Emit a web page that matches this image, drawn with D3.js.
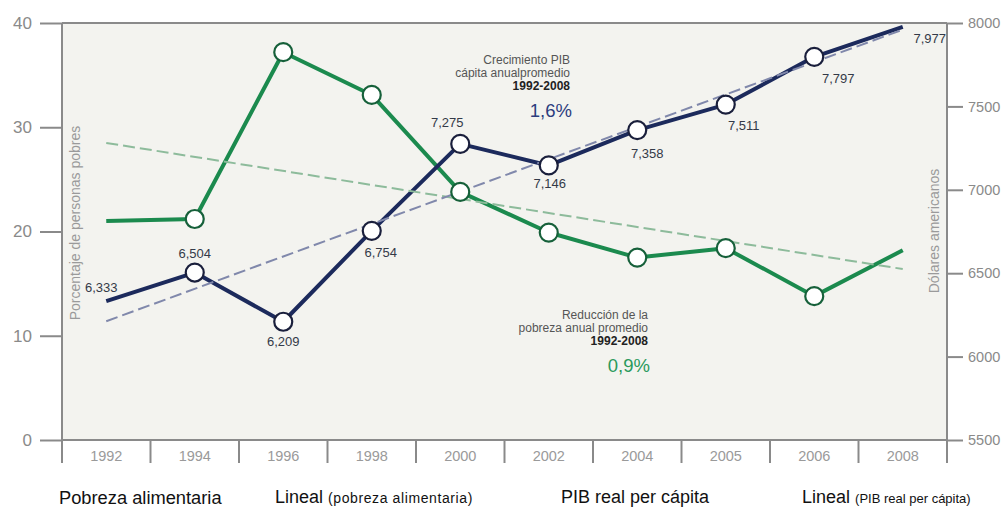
<!DOCTYPE html>
<html>
<head>
<meta charset="utf-8">
<script src="https://cdn.jsdelivr.net/npm/d3@7/dist/d3.min.js"></script>
<style>
  html, body { margin: 0; padding: 0; background: #ffffff; }
  svg { display: block; font-family: "Liberation Sans", Arial, sans-serif; }
</style>
</head>
<body>
<svg id="chart" width="1005" height="510"></svg>
<script>
// ---------- data ----------
const years = ["1992", "1994", "1996", "1998", "2000", "2002", "2004", "2005", "2006", "2008"];
const poverty = [21.0, 21.2, 37.2, 33.1, 23.8, 19.9, 17.5, 18.4, 13.8, 18.2];
const gdp = [6333, 6504, 6209, 6754, 7275, 7146, 7358, 7511, 7797, 7977];
const gdpLabels = ["6,333", "6,504", "6,209", "6,754", "7,275", "7,146", "7,358", "7,511", "7,797", "7,977"];
const povertyTrend = [28.5, 16.4];   // linear trend at 1992 and 2008
const gdpTrend = [6212, 7960];       // linear trend at 1992 and 2008
const leftTicks = [0, 10, 20, 30, 40];
const rightTicks = [5500, 6000, 6500, 7000, 7500, 8000];

// label offsets (style, not data)
const gdpLabelOffsets = [[-5, -14], [0, -19], [0, 20], [9, 22], [-13, -21], [1, 18], [10, 23], [18, 21], [24, 22], [27, 12]];

// ---------- layout ----------
const svg = d3.select("#chart");
const L = 62, R = 947, T = 23, B = 440;
const navy = "#1c2a5c", green = "#1b8a4e";
const axisColor = "#8a8a8a";

const x = d3.scaleBand().domain(years).range([L, R]).padding(0);
const cx = d => x(d) + x.bandwidth() / 2;
const yL = d3.scaleLinear().domain([0, 40]).range([B, T]);
const yR = d3.scaleLinear().domain([5500, 8000]).range([B, T]);

// plot background
svg.append("rect").attr("x", L).attr("y", T).attr("width", R - L).attr("height", B - T)
  .attr("fill", "#f3f3ef");

// left axis
const gl = svg.append("g").attr("transform", `translate(${L},0)`)
  .call(d3.axisLeft(yL).tickValues(leftTicks).tickSize(22).tickPadding(8));
gl.select(".domain").remove();
gl.selectAll("line").attr("stroke", axisColor).attr("stroke-width", 2);
gl.selectAll("text").attr("fill", "#8a8a8a").attr("font-size", 17).attr("font-family", "Liberation Sans, Arial, sans-serif");

// right axis
const gr = svg.append("g").attr("transform", `translate(${R},0)`)
  .call(d3.axisRight(yR).tickValues(rightTicks).tickSize(16).tickPadding(5).tickFormat(d3.format("d")));
gr.select(".domain").remove();
gr.selectAll("line").attr("stroke", axisColor).attr("stroke-width", 2);
gr.selectAll("text").attr("fill", "#8a8a8a").attr("font-size", 14.5).attr("font-family", "Liberation Sans, Arial, sans-serif");

// frame lines
svg.append("line").attr("x1", L).attr("x2", R).attr("y1", T).attr("y2", T).attr("stroke", axisColor).attr("stroke-width", 2);
svg.append("line").attr("x1", L).attr("x2", R).attr("y1", B).attr("y2", B).attr("stroke", axisColor).attr("stroke-width", 2);
svg.append("line").attr("x1", L).attr("x2", L).attr("y1", T).attr("y2", B + 23).attr("stroke", axisColor).attr("stroke-width", 2);
svg.append("line").attr("x1", R).attr("x2", R).attr("y1", T).attr("y2", B + 23).attr("stroke", axisColor).attr("stroke-width", 2);

// x axis: band separators + labels
const bounds = years.slice(1).map(d => x(d));
svg.append("g").selectAll("line").data(bounds).join("line")
  .attr("x1", d => d).attr("x2", d => d).attr("y1", B).attr("y2", B + 23)
  .attr("stroke", axisColor).attr("stroke-width", 2);
const gx = svg.append("g").attr("transform", `translate(0,${B})`)
  .call(d3.axisBottom(x).tickSize(0).tickPadding(11));
gx.select(".domain").remove();
gx.selectAll("text").attr("fill", "#9a9a9a").attr("font-size", 14.5).attr("font-family", "Liberation Sans, Arial, sans-serif");

// axis titles
svg.append("text").attr("transform", `translate(80,223) rotate(-90)`)
  .attr("text-anchor", "middle").attr("font-size", 14).attr("fill", "#9a9a9a")
  .text("Porcentaje de personas pobres");
svg.append("text").attr("transform", `translate(939,231) rotate(-90)`)
  .attr("text-anchor", "middle").attr("font-size", 14).attr("fill", "#9a9a9a")
  .text("Dólares americanos");

// lines
const lineL = d3.line().x((d, i) => cx(years[i])).y(d => yL(d));
const lineR = d3.line().x((d, i) => cx(years[i])).y(d => yR(d));

svg.append("path").datum(poverty).attr("d", lineL)
  .attr("fill", "none").attr("stroke", green).attr("stroke-width", 4).attr("stroke-linejoin", "round");
svg.append("path").datum(gdp).attr("d", lineR)
  .attr("fill", "none").attr("stroke", navy).attr("stroke-width", 4).attr("stroke-linejoin", "round");

// trend lines
const ends = [years[0], years[years.length - 1]];
svg.append("path").datum(povertyTrend)
  .attr("d", d3.line().x((d, i) => cx(ends[i])).y(d => yL(d)))
  .attr("fill", "none").attr("stroke", "#8dbb9b").attr("stroke-width", 2).attr("stroke-dasharray", "12,5");
svg.append("path").datum(gdpTrend)
  .attr("d", d3.line().x((d, i) => cx(ends[i])).y(d => yR(d)))
  .attr("fill", "none").attr("stroke", "#8088ab").attr("stroke-width", 2).attr("stroke-dasharray", "12,5");

// markers (not on first and last)
const inner = d3.range(1, years.length - 1);
svg.append("g").selectAll("circle").data(inner).join("circle")
  .attr("cx", i => cx(years[i])).attr("cy", i => yL(poverty[i])).attr("r", 9)
  .attr("fill", "#ffffff").attr("stroke", "#16603a").attr("stroke-width", 2.2);
svg.append("g").selectAll("circle").data(inner).join("circle")
  .attr("cx", i => cx(years[i])).attr("cy", i => yR(gdp[i])).attr("r", 9)
  .attr("fill", "#ffffff").attr("stroke", "#1a1f3c").attr("stroke-width", 2.2);

// gdp value labels
svg.append("g").selectAll("text").data(gdp).join("text")
  .attr("x", (d, i) => cx(years[i]) + gdpLabelOffsets[i][0])
  .attr("y", (d, i) => yR(d) + gdpLabelOffsets[i][1])
  .attr("text-anchor", "middle").attr("dominant-baseline", "central")
  .attr("font-size", 13).attr("fill", "#333a48")
  .text((d, i) => gdpLabels[i]);

// annotations
function note(xr, y0, lines, pct, pctColor) {
  const g = svg.append("g").attr("text-anchor", "end");
  g.append("text").attr("x", xr).attr("y", y0).attr("dominant-baseline", "central")
    .attr("font-size", 12).attr("fill", "#555").text(lines[0]);
  g.append("text").attr("x", xr).attr("y", y0 + 13).attr("dominant-baseline", "central")
    .attr("font-size", 12).attr("fill", "#555").text(lines[1]);
  g.append("text").attr("x", xr).attr("y", y0 + 26).attr("dominant-baseline", "central")
    .attr("font-size", 12).attr("font-weight", "bold").attr("fill", "#222").text(lines[2]);
  g.append("text").attr("x", xr + 2).attr("y", y0 + 50).attr("dominant-baseline", "central")
    .attr("font-size", 18.5).attr("fill", pctColor).text(pct);
}
note(570, 60, ["Crecimiento PIB", "cápita anualpromedio", "1992-2008"], "1,6%", "#2c3d7e");
note(648, 315, ["Reducción de la", "pobreza anual promedio", "1992-2008"], "0,9%", "#2a9a5c");

// legend (text only)
const lg = svg.append("g").attr("fill", "#111");
lg.append("text").attr("x", 59).attr("y", 497).attr("dominant-baseline", "central")
  .attr("font-size", 18.3).text("Pobreza alimentaria");
const l2 = lg.append("text").attr("x", 275).attr("y", 497).attr("dominant-baseline", "central").attr("font-size", 18);
l2.append("tspan").text("Lineal ");
l2.append("tspan").attr("font-size", 14).attr("letter-spacing", 0.6).attr("dy", 1).text("(pobreza alimentaria)");
lg.append("text").attr("x", 561).attr("y", 497).attr("dominant-baseline", "central")
  .attr("font-size", 18).text("PIB real per cápita");
const l4 = lg.append("text").attr("x", 802).attr("y", 497).attr("dominant-baseline", "central").attr("font-size", 18);
l4.append("tspan").text("Lineal ");
l4.append("tspan").attr("font-size", 13).attr("dy", 1).text("(PIB real per cápita)");
</script>
</body>
</html>
